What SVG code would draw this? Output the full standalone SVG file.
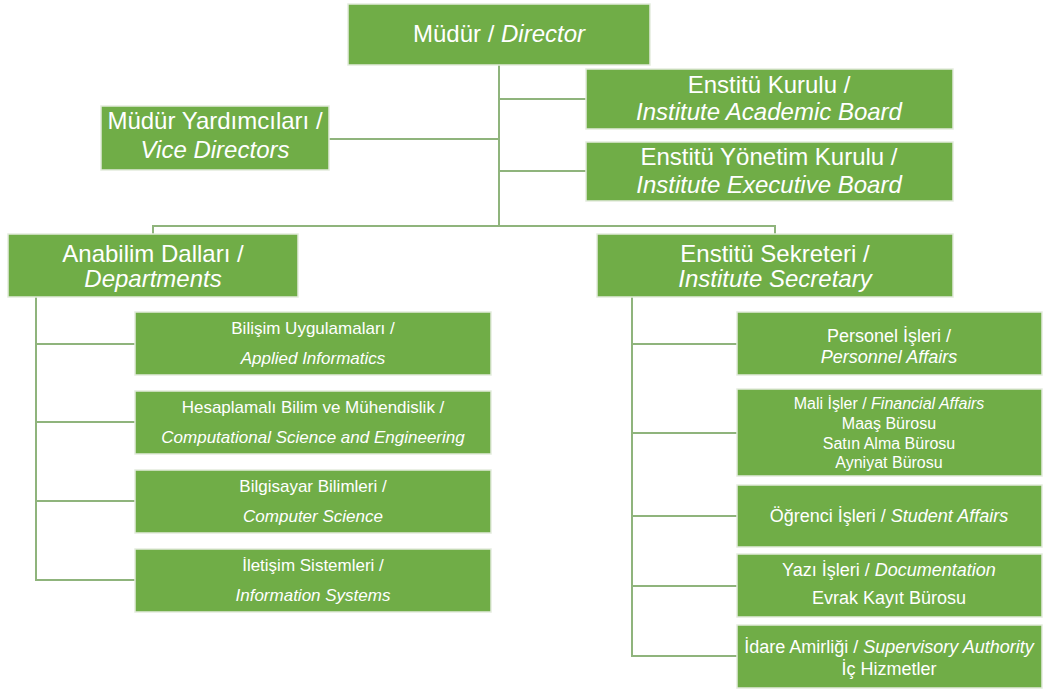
<svg xmlns="http://www.w3.org/2000/svg" width="1044" height="689" viewBox="0 0 1044 689">
<style>
.box{fill:#70AD47;stroke:#e3ebdd;stroke-width:1.5}
.ln{fill:none;stroke:#8fb47c;stroke-width:2}
text{font-family:"Liberation Sans",Arial,sans-serif;fill:#ffffff;text-anchor:middle}
.l{font-size:24px}
.s{font-size:17px}
.r{font-size:18px}
.m{font-size:16px}
.i{font-style:italic}
</style>
<rect width="1044" height="689" fill="#ffffff"/>
<g id="connectors">
<path class="ln" d="M499,65 V226"/>
<path class="ln" d="M499,99 H586"/>
<path class="ln" d="M499,171 H586"/>
<path class="ln" d="M329,139 H499"/>
<path class="ln" d="M153,234 V226 H775 V234"/>
<path class="ln" d="M36,297 V580 H135"/>
<path class="ln" d="M36,344 H135"/>
<path class="ln" d="M36,422 H135"/>
<path class="ln" d="M36,501 H135"/>
<path class="ln" d="M632,297 V656 H737"/>
<path class="ln" d="M632,344 H737"/>
<path class="ln" d="M632,433 H737"/>
<path class="ln" d="M632,516 H737"/>
<path class="ln" d="M632,586 H737"/>
</g>
<g id="director">
<rect class="box" x="348" y="4" width="302" height="61"/>
<text class="l" x="499" y="42">Müdür / <tspan class="i">Director</tspan></text>
</g>
<g id="academic-board">
<rect class="box" x="586" y="69" width="367" height="60"/>
<text class="l" x="769" y="93">Enstitü Kurulu /</text>
<text class="l i" x="769" y="120">Institute Academic Board</text>
</g>
<g id="executive-board">
<rect class="box" x="586" y="142" width="367" height="59"/>
<text class="l" x="769" y="165">Enstitü Yönetim Kurulu /</text>
<text class="l i" x="769" y="193">Institute Executive Board</text>
</g>
<g id="vice-directors">
<rect class="box" x="101" y="106" width="228" height="64"/>
<text class="l" x="215" y="129">Müdür Yardımcıları /</text>
<text class="l i" x="215" y="158">Vice Directors</text>
</g>
<g id="departments">
<rect class="box" x="8" y="234" width="290" height="63"/>
<text class="l" x="153" y="262">Anabilim Dalları /</text>
<text class="l i" x="153" y="287">Departments</text>
</g>
<g id="secretary">
<rect class="box" x="597" y="234" width="356" height="63"/>
<text class="l" x="775" y="262">Enstitü Sekreteri /</text>
<text class="l i" x="775" y="287">Institute Secretary</text>
</g>
<g id="applied-informatics">
<rect class="box" x="135" y="312" width="356" height="63"/>
<text class="s" x="313" y="334">Bilişim Uygulamaları /</text>
<text class="s i" x="313" y="364">Applied Informatics</text>
</g>
<g id="computational-science">
<rect class="box" x="135" y="391" width="356" height="63"/>
<text class="s" x="313" y="413">Hesaplamalı Bilim ve Mühendislik /</text>
<text class="s i" x="313" y="443">Computational Science and Engineering</text>
</g>
<g id="computer-science">
<rect class="box" x="135" y="470" width="356" height="63"/>
<text class="s" x="313" y="492">Bilgisayar Bilimleri /</text>
<text class="s i" x="313" y="522">Computer Science</text>
</g>
<g id="information-systems">
<rect class="box" x="135" y="549" width="356" height="63"/>
<text class="s" x="313" y="571">İletişim Sistemleri /</text>
<text class="s i" x="313" y="601">Information Systems</text>
</g>
<g id="personnel-affairs">
<rect class="box" x="737" y="312" width="305" height="63"/>
<text class="r" x="889" y="342">Personel İşleri /</text>
<text class="r i" x="889" y="363">Personnel Affairs</text>
</g>
<g id="financial-affairs">
<rect class="box" x="737" y="389" width="305" height="87"/>
<text class="m" x="889" y="409">Mali İşler / <tspan class="i">Financial Affairs</tspan></text>
<text class="m" x="889" y="429">Maaş Bürosu</text>
<text class="m" x="889" y="449">Satın Alma Bürosu</text>
<text class="m" x="889" y="468">Ayniyat Bürosu</text>
</g>
<g id="student-affairs">
<rect class="box" x="737" y="485" width="305" height="62"/>
<text class="r" x="889" y="522">Öğrenci İşleri / <tspan class="i">Student Affairs</tspan></text>
</g>
<g id="documentation">
<rect class="box" x="737" y="554" width="305" height="63"/>
<text class="r" x="889" y="576">Yazı İşleri / <tspan class="i">Documentation</tspan></text>
<text class="r" x="889" y="604">Evrak Kayıt Bürosu</text>
</g>
<g id="supervisory-authority">
<rect class="box" x="737" y="625" width="305" height="63"/>
<text class="r" x="889" y="653">İdare Amirliği / <tspan class="i">Supervisory Authority</tspan></text>
<text class="r" x="889" y="675">İç Hizmetler</text>
</g>
</svg>
